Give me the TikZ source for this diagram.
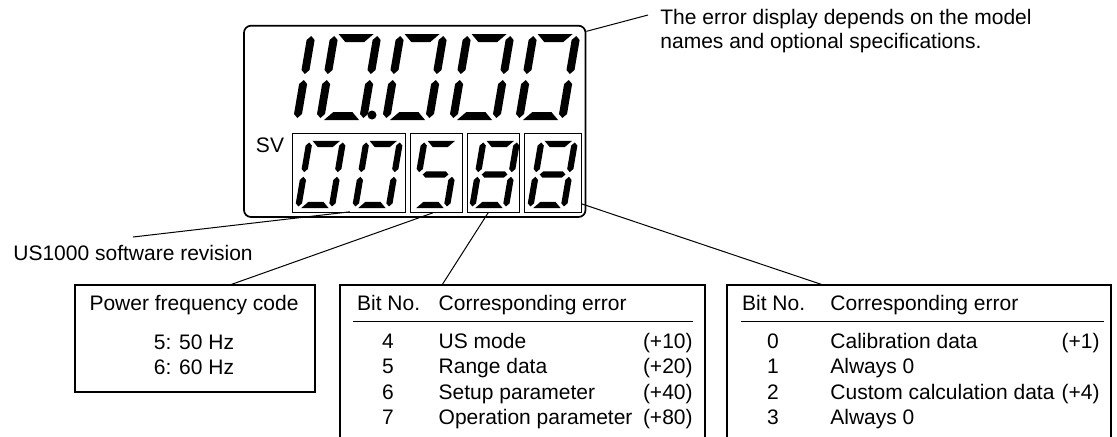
\documentclass[tikz,border=0pt]{standalone}
\usepackage{fontspec}
\setmainfont{Liberation Sans}
\usepackage{tikz}
\usetikzlibrary{calc}
\tikzset{
  bezel/.style   = {draw, line width=0.85pt, rounded corners=3.5pt},
  svbox/.style   = {draw, line width=0.5pt},
  infobox/.style = {draw, line width=0.6pt},
  leader/.style  = {line width=0.5pt},
  lbl/.style     = {inner sep=0pt, font=\fontsize{10.5}{12}\selectfont},
  segfill/.style = {fill=black}
}
% seven segment pieces (px, digit 51 x 86)
\newcommand{\segA}{\fill[segfill] (8,86) -- (43,86) -- (35,78) -- (16,78) -- cycle;}
\newcommand{\segB}{\fill[segfill] (47,84) -- (51,80) -- (51,50) -- (47,46) -- (43,50) -- (43,80) -- cycle;}
\newcommand{\segC}{\fill[segfill] (47,40) -- (51,36) -- (51,6) -- (47,2) -- (43,6) -- (43,36) -- cycle;}
\newcommand{\segD}{\fill[segfill] (8,0) -- (43,0) -- (35,8) -- (16,8) -- cycle;}
\newcommand{\segE}{\fill[segfill] (4,40) -- (8,36) -- (8,6) -- (4,2) -- (0,6) -- (0,36) -- cycle;}
\newcommand{\segF}{\fill[segfill] (4,84) -- (8,80) -- (8,50) -- (4,46) -- (0,50) -- (0,80) -- cycle;}
\newcommand{\segG}{\fill[segfill] (9,43) -- (13,47) -- (38,47) -- (42,43) -- (38,39) -- (13,39) -- cycle;}
\newcommand{\lcdigit}[4]{%
  \begin{scope}[shift={(#1,#2)}, xslant=0.17, xscale=#3, yscale=-#3]
    \foreach \s in {#4} {\csname seg\s\endcsname}
  \end{scope}}

\begin{document}
\begin{tikzpicture}[x=0.5pt, y=-0.5pt]
  \clip (0,0) rectangle (1117,436);

  % display
  \node[bezel, minimum width=170.75pt, minimum height=95.65pt] (display) at (414.75,121.35) {};
  \lcdigit{250}{120}{1}{B,C}
  \lcdigit{316}{120}{1}{A,B,C,D,E,F}
  \lcdigit{382}{120}{1}{A,B,C,D,E,F}
  \lcdigit{449}{120}{1}{A,B,C,D,E,F}
  \lcdigit{515}{120}{1}{A,B,C,D,E,F}
  \fill (372,115) circle[radius=2.25pt];

  \node[lbl] (sv) at (270,145) {SV};
  \node[svbox, minimum width=56.75pt, minimum height=39.65pt] (svbox1) at (348.75,172.65) {};
  \node[svbox, minimum width=26pt, minimum height=39.65pt] (svbox2) at (436,172.65) {};
  \node[svbox, minimum width=25.9pt, minimum height=39.65pt] (svbox3) at (493.6,172.65) {};
  \node[svbox, minimum width=28.35pt, minimum height=39.65pt] (svbox4) at (552.65,172.65) {};
  \lcdigit{295}{208}{0.78}{A,B,C,D,E,F}
  \lcdigit{352}{208}{0.78}{A,B,C,D,E,F}
  \lcdigit{410}{208}{0.78}{A,C,D,F,G}
  \lcdigit{469}{208}{0.78}{A,B,C,D,E,F,G}
  \lcdigit{527}{208}{0.78}{A,B,C,D,E,F,G}

  % note and revision
  \node[lbl, align=left, anchor=north west] (note) at (660,9)
    {The error display depends on the model\\names and optional specifications.};
  \coordinate (noteend) at (648,15);
  \node[lbl, anchor=base west] (revtxt) at (13,260.5) {US1000 software revision};
  \coordinate (revend) at (133,237);

  % power frequency box
  \node[infobox, minimum width=120pt, minimum height=53.5pt] (pwrbox) at (195,338.5) {};
  \node[lbl, anchor=base] (pwrtitle) at (194,310.5) {Power frequency code};
  \node[lbl, anchor=base] (pwr50) at (194,349) {5: 50 Hz};
  \node[lbl, anchor=base] (pwr60) at (194,374) {6: 60 Hz};

  % bit tables
  \node[infobox, minimum width=182.5pt, minimum height=92.5pt] (tabmid) at (522.5,377.5) {};
  \node[infobox, minimum width=192pt, minimum height=92.5pt] (tabright) at (919,377.5) {};
  \node[lbl, anchor=base west] (mhbit) at (356.7,310.5) {Bit No.};
  \node[lbl, anchor=base west] (mherr) at (438.3,310.5) {Corresponding error};
  \node[lbl, anchor=base west] (rhbit) at (741.7,310.5) {Bit No.};
  \node[lbl, anchor=base west] (rherr) at (830,310.5) {Corresponding error};
  \draw[leader] ($(tabmid.north west)+(14,37)$) -- ($(tabmid.north east)+(-13,37)$);
  \draw[leader] ($(tabright.north west)+(15,37)$) -- ($(tabright.north east)+(-8,37)$);
  \foreach \n/\txt/\val [count=\i from 0] in
      {4/US mode/(+10), 5/Range data/(+20), 6/Setup parameter/(+40), 7/Operation parameter/(+80)} {
    \node[lbl, anchor=base] (mbit\n) at (388,348.5+25.3*\i) {\n};
    \node[lbl, anchor=base west] (merr\n) at (438.3,348.5+25.3*\i) {\txt};
    \node[lbl, anchor=base east] (mval\n) at (693,348.5+25.3*\i) {\val};
  }
  \foreach \n/\txt/\val [count=\i from 0] in
      {0/Calibration data/(+1), 1/Always 0/, 2/Custom calculation data/(+4), 3/Always 0/} {
    \node[lbl, anchor=base] (rbit\n) at (773,348.5+25.3*\i) {\n};
    \node[lbl, anchor=base west] (rerr\n) at (830,348.5+25.3*\i) {\txt};
    \node[lbl, anchor=base east] (rval\n) at (1100,348.5+25.3*\i) {\val};
  }

  % leaders
  \draw[leader] ($(display.north east)+(0,6.5)$) -- (noteend);
  \draw[leader] ($(svbox1.south)+(1.25,-1)$) -- (revend);
  \draw[leader] ($(svbox2.south)+(-3,0)$) -- ($(pwrbox.north west)+(157,0)$);
  \draw[leader] ($(svbox3.south)+(-5.5,0)$) -- ($(tabmid.north west)+(103,0)$);
  \draw[leader] ($(svbox4.south east)+(0,-9)$) -- ($(tabright.north west)+(95,0)$);
\end{tikzpicture}
\end{document}
